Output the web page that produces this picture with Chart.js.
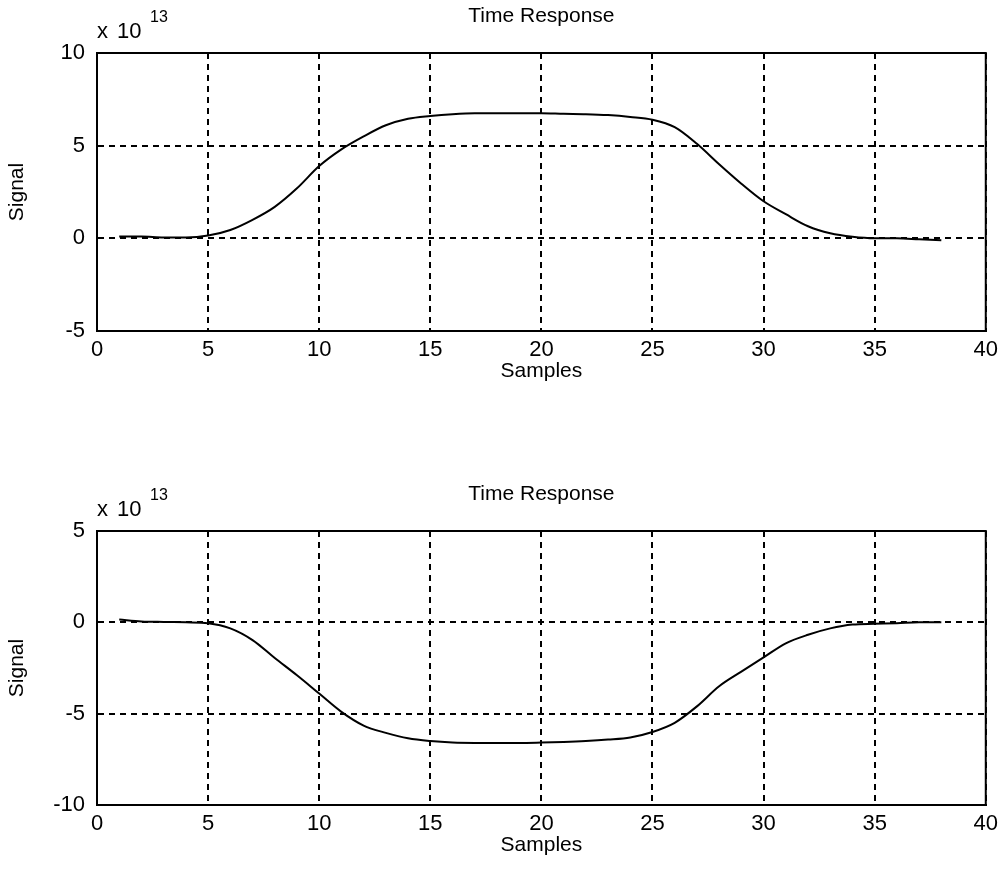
<!DOCTYPE html>
<html>
<head>
<meta charset="utf-8">
<script src="https://cdn.jsdelivr.net/npm/chart.js@4/dist/chart.umd.min.js"></script>
<style>
  html, body { margin: 0; padding: 0; background: #fff; }
  canvas { position: absolute; left: 0; display: block; }
</style>
</head>
<body>
<canvas id="upper" width="1004" height="439" style="top:0px"></canvas>
<canvas id="lower" width="1004" height="439" style="top:439px"></canvas>
<script>
// Sample index (x axis)
const samples = [1, 2, 3, 4, 5, 6, 7, 8, 9, 10, 11, 12, 13, 14, 15, 16, 17, 18, 19, 20,
                 21, 22, 23, 24, 25, 26, 27, 28, 29, 30, 31, 32, 33, 34, 35, 36, 37, 38];

// Signal values in units of 1e13
const upperSignal = [0.10, 0.10, 0.05, 0.05, 0.15, 0.45, 1.00, 1.70, 2.70, 3.90,
                     4.80, 5.50, 6.10, 6.45, 6.60, 6.70, 6.75, 6.75, 6.75, 6.75,
                     6.72, 6.70, 6.65, 6.55, 6.40, 6.00, 5.10, 4.00, 2.95, 2.00,
                     1.30, 0.65, 0.27, 0.08, 0.00, 0.00, -0.05, -0.10];

const lowerSignal = [0.15, 0.05, 0.02, 0.00, -0.05, -0.33, -0.97, -1.95, -2.90, -3.90,
                     -4.90, -5.65, -6.05, -6.35, -6.50, -6.58, -6.60, -6.60, -6.60, -6.58,
                     -6.55, -6.50, -6.42, -6.30, -6.00, -5.50, -4.60, -3.50, -2.70, -1.92,
                     -1.15, -0.68, -0.33, -0.12, -0.08, -0.05, 0.00, 0.00];

// Axis ranges / tick labels
const xTicks = [0, 5, 10, 15, 20, 25, 30, 35, 40];
const upperYTicks = [-5, 0, 5, 10];
const lowerYTicks = [-10, -5, 0, 5];

const titleText = 'Time Response';
const xLabel = 'Samples';
const yLabel = 'Signal';
const exponentText = '13';

const FAMILY = '"Liberation Sans", Arial, sans-serif';
const LABEL_FONT = '21px ' + FAMILY;

// Draws the axes box plus title, axis labels and the "x 10^13" multiplier
const decorations = {
  id: 'decorations',
  afterDraw(chart) {
    const { ctx, chartArea: a } = chart;
    ctx.save();
    ctx.strokeStyle = '#000';
    ctx.lineWidth = 2;
    ctx.strokeRect(a.left, a.top, a.right - a.left, a.bottom - a.top);

    ctx.fillStyle = '#000';
    ctx.font = LABEL_FONT;
    ctx.textAlign = 'center';
    ctx.textBaseline = 'middle';
    const cx = (a.left + a.right) / 2;
    ctx.fillText(titleText, cx, a.top - 37);
    ctx.fillText(xLabel, cx, a.bottom + 40);

    ctx.save();
    ctx.translate(17, (a.top + a.bottom) / 2);
    ctx.rotate(-Math.PI / 2);
    ctx.fillText(yLabel, 0, 0);
    ctx.restore();

    ctx.textAlign = 'left';
    ctx.textBaseline = 'alphabetic';
    ctx.font = '22px ' + FAMILY;
    ctx.fillText('x', a.left, a.top - 15);
    ctx.fillText('10', a.left + 20, a.top - 15);
    ctx.font = '16px ' + FAMILY;
    ctx.fillText(exponentText, a.left + 53, a.top - 31);
    ctx.restore();
  }
};

function makeChart(id, values, yTicks, areaTop, areaBottom) {
  const H = 439;
  const data = samples.map((s, i) => ({ x: s, y: values[i] }));
  return new Chart(document.getElementById(id), {
    type: 'scatter',
    data: {
      datasets: [{
        data,
        showLine: true,
        borderColor: '#000',
        borderWidth: 2,
        pointRadius: 0,
        cubicInterpolationMode: 'monotone',
        fill: false
      }]
    },
    options: {
      responsive: false,
      animation: false,
      devicePixelRatio: 1,
      layout: { padding: { top: areaTop, right: 16, left: 0, bottom: 0 } },
      plugins: { legend: { display: false }, tooltip: { enabled: false } },
      scales: {
        x: {
          type: 'linear',
          min: xTicks[0],
          max: xTicks[xTicks.length - 1],
          afterBuildTicks(scale) { scale.ticks = xTicks.map(v => ({ value: v })); },
          afterFit(scale) { scale.height = H - areaBottom; },
          ticks: { color: '#000', font: { family: FAMILY, size: 22 }, padding: 6, maxRotation: 0 },
          grid: { color: '#000', lineWidth: 2, drawTicks: false },
          border: { color: '#000', width: 2, dash: [6, 5] }
        },
        y: {
          type: 'linear',
          min: yTicks[0],
          max: yTicks[yTicks.length - 1],
          afterBuildTicks(scale) { scale.ticks = yTicks.map(v => ({ value: v })); },
          afterFit(scale) { scale.width = 97; },
          ticks: { color: '#000', font: { family: FAMILY, size: 22 }, padding: 12 },
          grid: { color: '#000', lineWidth: 2, drawTicks: false },
          border: { color: '#000', width: 2, dash: [6, 5] }
        }
      }
    },
    plugins: [decorations]
  });
}

makeChart('upper', upperSignal, upperYTicks, 53, 331);
makeChart('lower', lowerSignal, lowerYTicks, 92, 366);
</script>
</body>
</html>
